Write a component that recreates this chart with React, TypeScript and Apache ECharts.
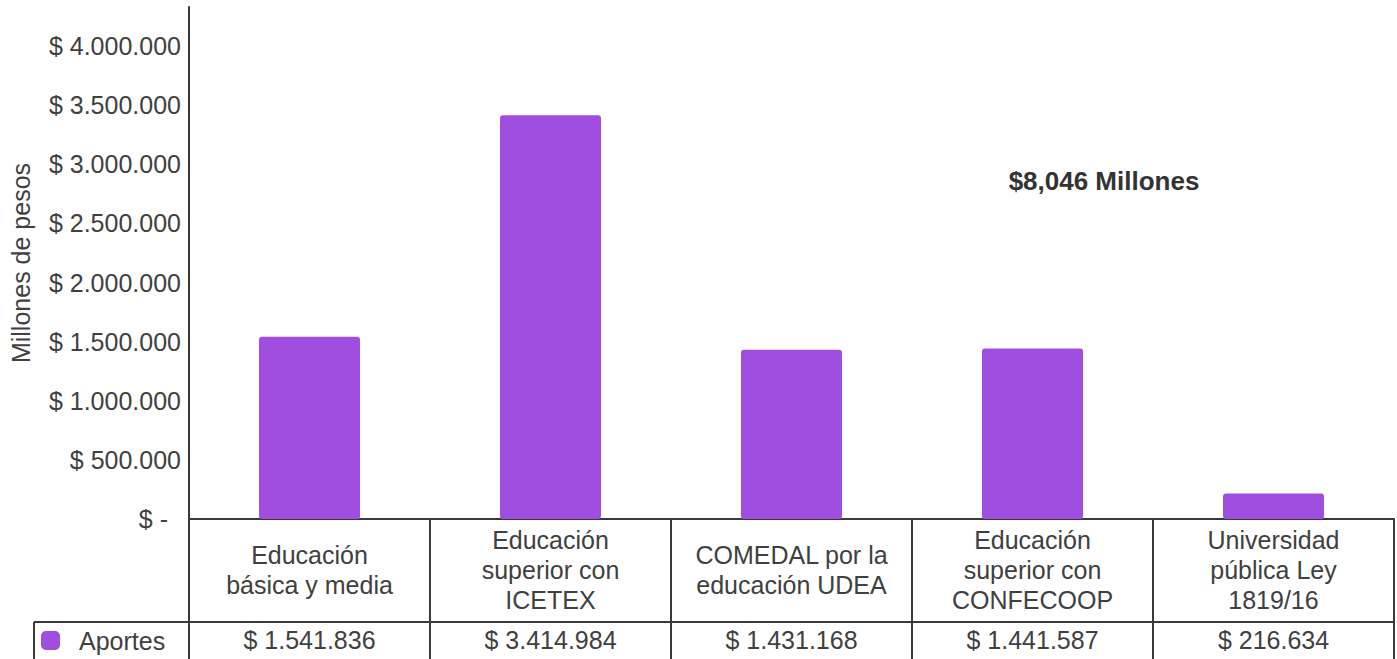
import React, { useEffect, useRef } from "react";
import * as echarts from "echarts";

const categories = [
  "Educación\nbásica y media",
  "Educación\nsuperior con\nICETEX",
  "COMEDAL por la\neducación UDEA",
  "Educación\nsuperior con\nCONFECOOP",
  "Universidad\npública Ley\n1819/16",
];
const values = [1541836, 3414984, 1431168, 1441587, 216634];
const seriesName = "Aportes";
const yAxisName = "Millones de pesos";
const totalLabel = "$8,046 Millones";
const yTickStep = 500000;
const yTickTop = 4000000;
const yMax = 4330000;

const fmt = (n: number) =>
  n === 0 ? "$ -" : "$ " + String(Math.round(n)).replace(/\B(?=(\d{3})+(?!\d))/g, ".");

const FONT = "'Liberation Sans', Arial, sans-serif";
const FS = 25;
const TXT = "#404040";
const LINE = "#3a3a3a";
const BAR = "#a04ee0";

export default function App() {
  const ref = useRef<HTMLDivElement>(null);
  useEffect(() => {
    document.body.style.margin = "0";
    const chart = echarts.init(ref.current!, null, { renderer: "svg" });
    chart.setOption({
      animation: false,
      textStyle: { fontFamily: FONT },
      grid: { left: 188, right: 3, top: 7, bottom: 140, containLabel: false },
      legend: {
        left: 41,
        top: 628,
        itemWidth: 19,
        itemHeight: 19,
        icon: "roundRect",
        padding: 0,
        textStyle: { fontSize: FS, color: TXT, fontFamily: FONT, padding: [0, 0, 0, 14] },
        data: [seriesName],
      },
      xAxis: [
        {
          type: "category",
          data: categories,
          axisLine: { lineStyle: { color: LINE, width: 2 } },
          axisTick: { show: true, length: 140, alignWithLabel: false, lineStyle: { color: LINE, width: 2 } },
          axisLabel: {
            interval: 0,
            margin: 51,
            verticalAlign: "middle",
            lineHeight: 30,
            fontSize: FS,
            color: TXT,
            fontFamily: FONT,
          },
        },
        {
          type: "category",
          position: "bottom",
          offset: 0,
          data: values.map(fmt),
          axisLine: { show: false },
          axisTick: { show: false },
          axisLabel: {
            interval: 0,
            margin: 121,
            verticalAlign: "middle",
            fontSize: FS,
            color: TXT,
            fontFamily: FONT,
          },
        },
      ],
      yAxis: {
        type: "value",
        min: 0,
        max: yMax,
        interval: yTickStep,
        name: yAxisName,
        nameLocation: "middle",
        nameRotate: 90,
        nameGap: 156,
        nameTextStyle: { fontSize: FS, color: TXT, fontFamily: FONT },
        axisLine: { show: true, lineStyle: { color: LINE, width: 2 } },
        axisTick: { show: false },
        splitLine: { show: false },
        axisLabel: {
          margin: 8,
          fontSize: FS,
          color: TXT,
          fontFamily: FONT,
          formatter: (v: number) => {
            if (v % yTickStep !== 0 || v > yTickTop) return "";
            return v === 0 ? "{z|" + fmt(0) + "}" : fmt(v);
          },
          rich: { z: { fontSize: FS, color: TXT, fontFamily: FONT, padding: [0, 13, 0, 0] } },
        },
      },
      series: [
        {
          name: seriesName,
          type: "bar",
          xAxisIndex: 0,
          data: values,
          barWidth: 101,
          itemStyle: { color: BAR, borderRadius: 3 },
        },
      ],
      graphic: [
        {
          type: "line",
          shape: { x1: 34, y1: 622, x2: 1394, y2: 622 },
          style: { stroke: LINE, lineWidth: 2 },
        },
        {
          type: "line",
          shape: { x1: 34, y1: 622, x2: 34, y2: 659 },
          style: { stroke: LINE, lineWidth: 2 },
        },
        {
          type: "text",
          x: 1104,
          y: 181,
          style: {
            text: totalLabel,
            fill: "#333",
            font: "bold 26px " + FONT,
            textAlign: "center",
            textVerticalAlign: "middle",
          },
        },
      ],
    });
    return () => chart.dispose();
  }, []);
  return <div ref={ref} style={{ width: 1397, height: 659 }} />;
}
